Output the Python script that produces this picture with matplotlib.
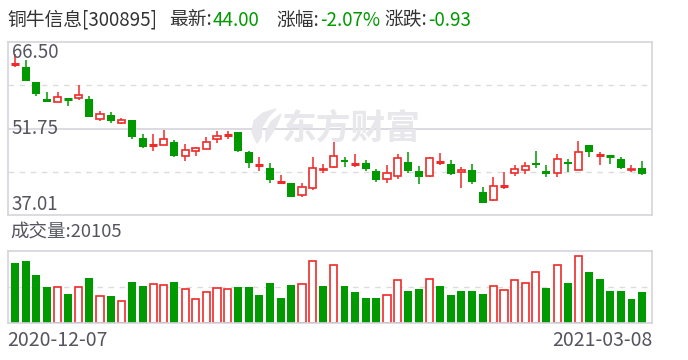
import matplotlib
matplotlib.use("Agg")
import matplotlib.pyplot as plt
from matplotlib.patches import Polygon
import numpy as np

plt.rcParams['font.family'] = ['Noto Sans CJK SC', 'DejaVu Sans']

# 日K数据 2020-12-07 ~ 2021-03-08
opens = [62.80, 62.29, 59.72, 56.82, 56.26, 56.80, 56.94, 56.77, 53.35, 54.03,
         52.72, 53.24, 50.10, 48.97, 48.91, 49.48, 47.03, 47.94, 48.23, 49.93,
         50.67, 51.19, 47.77, 45.55, 45.04, 42.65, 42.48, 40.37, 41.56, 44.75,
         45.27, 46.40, 45.60, 45.89, 44.53, 43.10, 43.61, 46.06, 44.53, 43.61,
         46.00, 45.72, 44.30, 44.64, 40.94, 39.63, 42.02, 44.13, 44.64, 45.89,
         44.53, 44.13, 46.06, 44.64, 48.97, 47.20, 47.05, 46.57, 44.75, 44.95]
closes = [62.80, 59.90, 57.56, 56.31, 57.11, 56.75, 57.45, 53.80, 54.26, 52.95,
          53.24, 50.39, 48.62, 48.97, 49.99, 47.14, 48.11, 48.45, 49.42, 50.44,
          50.67, 48.00, 45.95, 45.55, 43.05, 42.65, 40.14, 41.79, 44.98, 44.90,
          47.03, 46.12, 45.72, 44.92, 43.05, 44.13, 46.74, 44.58, 43.56, 46.69,
          46.00, 44.02, 44.64, 42.65, 39.12, 41.91, 42.02, 44.81, 45.38, 45.61,
          44.07, 46.57, 45.78, 47.71, 47.83, 47.20, 47.00, 45.09, 44.93, 44.00]
highs = [64.39, 63.48, 59.72, 58.02, 58.02, 56.80, 59.21, 57.33, 54.77, 54.60,
         53.52, 53.24, 50.84, 50.84, 51.53, 49.82, 49.08, 48.68, 50.33, 51.41,
         51.41, 51.19, 47.94, 46.97, 45.89, 43.84, 42.48, 42.42, 46.92, 45.72,
         49.48, 46.86, 47.43, 46.40, 44.87, 45.55, 47.43, 47.83, 45.38, 46.86,
         47.60, 46.40, 45.15, 45.72, 41.79, 43.50, 44.35, 45.55, 46.06, 47.94,
         45.55, 47.43, 46.57, 49.65, 48.97, 47.77, 47.26, 46.97, 45.49, 46.23]
lows = [62.23, 59.78, 57.22, 56.20, 56.26, 55.51, 56.54, 53.80, 53.06, 52.61,
        52.44, 50.05, 48.51, 48.00, 48.91, 46.86, 46.29, 47.14, 48.23, 49.25,
        49.93, 47.77, 45.09, 44.58, 42.53, 42.25, 40.03, 40.14, 41.28, 44.13,
        45.09, 45.27, 45.27, 44.47, 42.70, 42.53, 43.10, 44.13, 42.31, 43.50,
        45.55, 43.84, 41.68, 42.31, 39.12, 39.46, 41.51, 43.61, 44.07, 45.09,
        43.56, 43.56, 44.41, 44.64, 46.92, 45.61, 45.78, 44.92, 44.41, 43.90]
# 成交量(手)
vols = [38700, 40000, 31000, 23300, 23300, 18800, 23300, 29100, 17500, 17500,
        14100, 26500, 24000, 25000, 24400, 26500, 22000, 15400, 19900, 22700,
        22000, 23300, 23300, 18200, 25900, 16300, 24600, 25000, 39800, 24000,
        37200, 24000, 20100, 16300, 16300, 18000, 27600, 20700, 22000, 28200,
        24000, 18200, 20700, 20700, 18800, 24000, 21200, 27600, 25700, 32700,
        22700, 37200, 25900, 43000, 32900, 28400, 20700, 20700, 15600, 20105]
vol_up = [0, 0, 0, 0, 1, 0, 1, 0, 1, 0, 1, 0, 0, 1, 1, 0, 1, 1, 1, 1,
          1, 0, 0, 0, 0, 0, 0, 1, 1, 0, 1, 0, 0, 0, 0, 1, 1, 0, 0, 1,
          0, 0, 0, 0, 0, 1, 1, 1, 1, 1, 0, 1, 0, 1, 0, 0, 0, 0, 0, 0]
price_ticks = [37.01, 51.75, 66.50]
date_labels = ["2020-12-07", "2021-03-08"]

RED = '#ee2a2a'
GREEN = '#009a00'
GRID = '#d4d4dc'
TXT = '#555560'
WM = '#e7e7ec'
W, H = 688, 360

fig = plt.figure(figsize=(6.88, 3.6), dpi=100)

def px_ax(x0, y0, x1, y1):
    return fig.add_axes([x0 / W, 1 - y1 / H, (x1 - x0) / W, (y1 - y0) / H])

def fpt(px, py):
    return (px / W, 1 - py / H)

ax = px_ax(8, 42, 652, 215)
axv = px_ax(8, 251, 652, 323)

n = len(opens)
x = np.arange(n)
bw = 0.75
lo, hi = price_ticks[0], price_ticks[-1]

for a in (ax, axv):
    a.set_xlim(-0.66, n - 0.07)
    a.set_xticks([])
    a.set_yticks([])
    for s in a.spines.values():
        s.set_color(GRID)
        s.set_linewidth(1.2)

# 价格面板
ax.set_ylim(lo, hi)
ax.axhline(price_ticks[1], color=GRID, lw=1.2, zorder=0)
for q in (lo + (hi - lo) * 0.25, lo + (hi - lo) * 0.75):
    ax.axhline(q, color='#dcdcdc', lw=1.0, ls=(0, (4, 4)), zorder=0)

# 水印
fig.text(*fpt(351, 128), "东方财富", fontsize=25, fontweight='bold', color=WM,
         ha='center', va='center', zorder=0)
logo1 = [(257, 143), (252, 132), (254, 121), (263, 113), (276, 109),
         (268, 117), (262, 127), (261, 137)]
logo2 = [(266, 142), (266, 131), (271, 122), (281, 114),
         (277, 124), (272, 133)]
for pts in (logo1, logo2):
    fig.patches.append(Polygon([fpt(*p) for p in pts], closed=True, color=WM,
                               transform=fig.transFigure, zorder=0))

for i in range(n):
    o, c, h, l = opens[i], closes[i], highs[i], lows[i]
    up = c >= o
    col = RED if up else GREEN
    top, bot = max(o, c), min(o, c)
    ax.vlines(x[i], top, h, color=col, lw=1.1, zorder=2)
    ax.vlines(x[i], l, bot, color=col, lw=1.1, zorder=2)
    if top - bot < 0.12:
        ax.hlines((top + bot) / 2, x[i] - bw / 2, x[i] + bw / 2, color=col, lw=2.2, zorder=3)
    elif up:
        ax.bar(x[i], top - bot, bottom=bot, width=bw - 0.08, facecolor='white',
               edgecolor=col, lw=1.2, zorder=3)
    else:
        ax.bar(x[i], top - bot, bottom=bot, width=bw, color=col, lw=0, zorder=3)

ax.text(0.006, 1.0, f"{price_ticks[2]:.2f}", transform=ax.transAxes, fontsize=13.5,
        color=TXT, ha='left', va='top', zorder=5)
ax.text(0.006, 0.5, f"{price_ticks[1]:.2f}", transform=ax.transAxes, fontsize=13.5,
        color=TXT, ha='left', va='center', zorder=5)
ax.text(0.006, 0.0, f"{price_ticks[0]:.2f}", transform=ax.transAxes, fontsize=13.5,
        color=TXT, ha='left', va='bottom', zorder=5)

# 成交量面板
vtop = max(vols) * 1.08
axv.set_ylim(0, vtop)
axv.axhline(vtop / 2, color='#dcdcdc', lw=1.0, ls=(0, (4, 4)), zorder=0)
for i in range(n):
    if vol_up[i]:
        axv.bar(x[i], vols[i], width=bw - 0.08, facecolor='white', edgecolor=RED,
                lw=1.2, zorder=2)
    else:
        axv.bar(x[i], vols[i], width=bw, color=GREEN, lw=0, zorder=2)

# 文字
def ftext(px, py, s, **kw):
    fig.text(*fpt(px, py), s, va='center', **kw)

ftext(7, 20, "铜牛信息[300895]", fontsize=13.5, color='#333333')
ftext(212, 20, "最新:", fontsize=13.5, color='#333333', ha='right')
ftext(213, 20, f"{closes[-1]:.2f}", fontsize=13.5, color=GREEN)
ftext(319, 20, "涨幅:", fontsize=13.5, color='#333333', ha='right')
ftext(320, 20, "-2.07%", fontsize=13.5, color=GREEN)
ftext(427, 20, "涨跌:", fontsize=13.5, color='#333333', ha='right')
ftext(428, 20, "-0.93", fontsize=13.5, color=GREEN)

ftext(10, 233, f"成交量:{vols[-1]}", fontsize=13.3, color=TXT)
ftext(7, 340, date_labels[0], fontsize=14, color=TXT)
ftext(652, 340, date_labels[1], fontsize=14, color=TXT, ha='right')

fig.savefig("out.png", dpi=100)
